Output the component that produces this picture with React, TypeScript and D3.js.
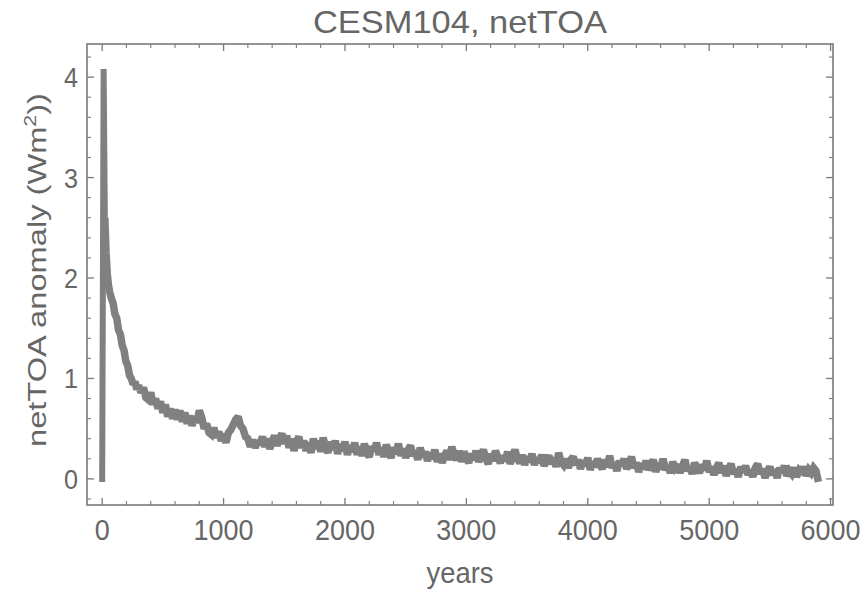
import React from "react";
import * as d3 from "d3";

const title = "CESM104, netTOA";
const xLabel = "years";
const xTicks = [0, 1000, 2000, 3000, 4000, 5000, 6000];
const yTicks = [0, 1, 2, 3, 4];

const earlyYears = [0, 12, 22, 32, 42, 52, 62, 75, 90, 105, 120, 135, 150, 165, 180, 195, 210, 225, 240, 255, 270, 285];
const earlyValues = [-0.03, 4.08, 2.6, 2.25, 2.04, 1.93, 1.86, 1.8, 1.75, 1.64, 1.6, 1.48, 1.44, 1.33, 1.28, 1.17, 1.13, 1.03, 1.0, 0.94, 0.97, 0.89];

const laterStart = 300;
const laterStep = 20;
const laterValues = [
  0.93, 0.86, 0.91, 0.81, 0.79, 0.86, 0.74, 0.8, 0.7, 0.77,
  0.66, 0.74, 0.62, 0.7, 0.6, 0.69, 0.59, 0.68, 0.57, 0.66,
  0.55, 0.63, 0.53, 0.62, 0.56, 0.68, 0.61, 0.5, 0.55, 0.46,
  0.44, 0.51, 0.41, 0.47, 0.38, 0.45, 0.36, 0.46, 0.49, 0.54,
  0.59, 0.62, 0.53, 0.5, 0.42, 0.4, 0.32, 0.39, 0.31, 0.38,
  0.34, 0.42, 0.32, 0.4, 0.3, 0.37, 0.43, 0.33, 0.4, 0.45,
  0.35, 0.43, 0.31, 0.4, 0.28, 0.37, 0.42, 0.31, 0.38, 0.28,
  0.36, 0.26, 0.4, 0.3, 0.38, 0.27, 0.41, 0.32, 0.26, 0.37,
  0.29, 0.38, 0.25, 0.34, 0.28, 0.37, 0.24, 0.33, 0.27, 0.36,
  0.24, 0.32, 0.23, 0.35, 0.26, 0.22, 0.32, 0.28, 0.36, 0.24,
  0.31, 0.22, 0.34, 0.27, 0.21, 0.31, 0.25, 0.35, 0.23, 0.3,
  0.21, 0.29, 0.33, 0.23, 0.28, 0.19, 0.31, 0.22, 0.27, 0.18,
  0.26, 0.2, 0.29, 0.17, 0.25, 0.16, 0.23, 0.28, 0.19, 0.32,
  0.24, 0.19, 0.28, 0.17, 0.27, 0.21, 0.16, 0.25, 0.19, 0.28,
  0.17, 0.23, 0.29, 0.2, 0.15, 0.25, 0.18, 0.28, 0.21, 0.16,
  0.23, 0.18, 0.27, 0.15, 0.22, 0.29, 0.2, 0.16, 0.24, 0.14,
  0.22, 0.17, 0.25, 0.14, 0.21, 0.16, 0.24, 0.13, 0.19, 0.23,
  0.15, 0.21, 0.12, 0.26, 0.17, 0.14, 0.2, 0.11, 0.19, 0.22,
  0.14, 0.19, 0.1, 0.18, 0.13, 0.21, 0.09, 0.17, 0.12, 0.2,
  0.14, 0.1, 0.19, 0.12, 0.23, 0.11, 0.16, 0.08, 0.18, 0.13,
  0.2, 0.1, 0.15, 0.22, 0.11, 0.16, 0.07, 0.15, 0.1, 0.18,
  0.09, 0.14, 0.19, 0.07, 0.15, 0.1, 0.2, 0.09, 0.13, 0.06,
  0.17, 0.11, 0.14, 0.06, 0.13, 0.19, 0.08, 0.12, 0.05, 0.16,
  0.11, 0.06, 0.14, 0.09, 0.18, 0.07, 0.12, 0.04, 0.11, 0.16,
  0.06, 0.13, 0.03, 0.1, 0.15, 0.05, 0.09, 0.02, 0.12, 0.07,
  0.13, 0.04, 0.09, 0.02, 0.11, 0.15, 0.05, 0.1, 0.01, 0.08,
  0.12, 0.04, 0.09, 0.01, 0.11, 0.06, 0.13, 0.03, 0.08, 0.05,
  0.11, 0.02, 0.08, 0.05, 0.12, 0.03, 0.09, 0.06, 0.11, 0.08,
  -0.03,
];

const W = 868;
const H = 597;
const left = 87, right = 833, top = 44, bottom = 505;
const textColor = "#666666";
const frameColor = "#7a7a7a";
const lineColor = "#808080";
const font = "'Liberation Sans', Arial, Helvetica, sans-serif";

export default function App() {
  const x = d3.scaleLinear().domain([-125, 6020]).range([left, right]);
  const y = d3.scaleLinear().domain([-0.26, 4.33]).range([bottom, top]);

  const data: [number, number][] = [];
  earlyYears.forEach((yr, i) => data.push([yr, earlyValues[i]]));
  laterValues.forEach((v, i) => data.push([laterStart + i * laterStep, v]));

  const line = d3
    .line<[number, number]>()
    .x((d) => x(d[0]))
    .y((d) => y(d[1]));

  const xMinor = d3.range(0, 6001, 200).filter((v) => v % 1000 !== 0);
  const yMinor = d3.range(-0.2, 4.21, 0.2).filter((v) => Math.abs(v - Math.round(v)) > 0.01);
  const majLen = 7, minLen = 4;

  return (
    <div style={{ position: "absolute", left: 0, top: 0 }}>
      <svg width={W} height={H} style={{ display: "block", background: "#fff" }}>
        <rect x={0} y={0} width={W} height={H} fill="#fff" />
        <defs>
          <clipPath id="plot">
            <rect x={left} y={top} width={right - left} height={bottom - top} />
          </clipPath>
        </defs>
        <g clipPath="url(#plot)">
          <path
            d={line(data.slice(0, 3)) || ""}
            fill="none"
            stroke={lineColor}
            strokeWidth={6}
            strokeLinejoin="miter"
            strokeMiterlimit={2}
          />
          <path
            d={line(data.slice(2)) || ""}
            fill="none"
            stroke={lineColor}
            strokeWidth={7.5}
            strokeLinejoin="miter"
            strokeMiterlimit={2}
          />
        </g>
        {/* frame */}
        <rect x={left} y={top} width={right - left} height={bottom - top} fill="none" stroke={frameColor} strokeWidth={1.6} />
        {/* x ticks */}
        {xTicks.map((t) => (
          <g key={"xt" + t}>
            <line x1={x(t)} x2={x(t)} y1={bottom} y2={bottom - majLen} stroke={frameColor} strokeWidth={1.3} />
            <line x1={x(t)} x2={x(t)} y1={top} y2={top + majLen} stroke={frameColor} strokeWidth={1.3} />
            <text
              x={x(t)}
              y={540}
              textAnchor="middle"
              fontFamily={font}
              fontSize={29}
              fill={textColor}
              textLength={15 * String(t).length}
              lengthAdjust="spacingAndGlyphs"
            >
              {t}
            </text>
          </g>
        ))}
        {xMinor.map((t) => (
          <g key={"xm" + t}>
            <line x1={x(t)} x2={x(t)} y1={bottom} y2={bottom - minLen} stroke={frameColor} strokeWidth={1.1} />
            <line x1={x(t)} x2={x(t)} y1={top} y2={top + minLen} stroke={frameColor} strokeWidth={1.1} />
          </g>
        ))}
        {/* y ticks */}
        {yTicks.map((t) => (
          <g key={"yt" + t}>
            <line x1={left} x2={left + majLen} y1={y(t)} y2={y(t)} stroke={frameColor} strokeWidth={1.3} />
            <line x1={right} x2={right - majLen} y1={y(t)} y2={y(t)} stroke={frameColor} strokeWidth={1.3} />
            <text
              x={78}
              y={y(t) + 10}
              textAnchor="end"
              fontFamily={font}
              fontSize={28}
              fill={textColor}
              textLength={14}
              lengthAdjust="spacingAndGlyphs"
            >
              {t}
            </text>
          </g>
        ))}
        {yMinor.map((t) => (
          <g key={"ym" + t.toFixed(1)}>
            <line x1={left} x2={left + minLen} y1={y(t)} y2={y(t)} stroke={frameColor} strokeWidth={1.1} />
            <line x1={right} x2={right - minLen} y1={y(t)} y2={y(t)} stroke={frameColor} strokeWidth={1.1} />
          </g>
        ))}
        {/* title */}
        <text
          x={460}
          y={33}
          textAnchor="middle"
          fontFamily={font}
          fontSize={32}
          fill={textColor}
          textLength={294}
          lengthAdjust="spacingAndGlyphs"
        >
          {title}
        </text>
        {/* x label */}
        <text
          x={460}
          y={583}
          textAnchor="middle"
          fontFamily={font}
          fontSize={29}
          fill={textColor}
          textLength={67}
          lengthAdjust="spacingAndGlyphs"
        >
          {xLabel}
        </text>
        {/* y label */}
        <text
          transform="translate(46,270) rotate(-90)"
          textAnchor="middle"
          fontFamily={font}
          fontSize={26}
          fill={textColor}
          textLength={354}
          lengthAdjust="spacingAndGlyphs"
        >
          netTOA anomaly (Wm<tspan dy={-10} fontSize={17}>2</tspan>
          <tspan dy={10}>))</tspan>
        </text>
      </svg>
    </div>
  );
}
